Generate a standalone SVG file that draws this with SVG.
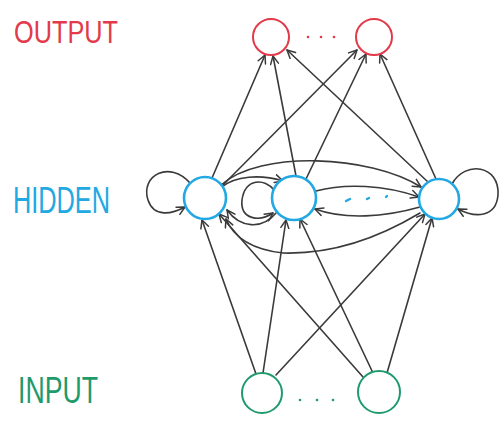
<svg xmlns="http://www.w3.org/2000/svg" width="503" height="427" viewBox="0 0 503 427">
<style>
.bg{fill:#ffffff}
.e{fill:none;stroke:#3a3a3a;stroke-width:1.6;stroke-linecap:round;marker-end:url(#arr)}
.out{fill:#fff;stroke:#e23a4a;stroke-width:2}
.hid{fill:#fff;stroke:#22a8e2;stroke-width:2.6}
.inp{fill:#fff;stroke:#1f9a6c;stroke-width:2}
.lbl{font-family:"Liberation Sans",Arial,sans-serif;font-weight:normal}
</style>
<defs>
<marker id="arr" viewBox="0 0 10 10" refX="9" refY="5" markerWidth="10" markerHeight="10" markerUnits="userSpaceOnUse" orient="auto">
<path d="M1,1 L9,5 L1,9" fill="none" stroke="#3a3a3a" stroke-width="1.5" stroke-linecap="round" stroke-linejoin="round"/>
</marker>
</defs>
<rect class="bg" x="0" y="0" width="503" height="427"/>

<g id="connectors">
<!-- input to hidden -->
<path class="e" d="M256,374 L202,220"/>
<path class="e" d="M263,373 L286,220"/>
<path class="e" d="M276,375 L425,214"/>
<path class="e" d="M363,377 L219,214"/>
<path class="e" d="M373,373 L300,219"/>
<path class="e" d="M387,373 L432,218"/>
<!-- hidden to output -->
<path class="e" d="M212,178 L265,55"/>
<path class="e" d="M222,186 L357,50"/>
<path class="e" d="M296,176 L273,56"/>
<path class="e" d="M306,179 L366,54"/>
<path class="e" d="M428,182 L287,50"/>
<path class="e" d="M436,179 L380,54"/>
<!-- self loops -->
<path class="e" d="M190,183 C170,160 140,175 148,200 C154,218 172,214 185,207"/>
<path class="e" d="M274,190 C265,178 245,178 242,200 C240,220 260,222 273,213"/>
<path class="e" d="M452,184 C465,160 500,165 498,195 C496,218 475,218 458,209"/>
<!-- hidden recurrent -->
<path class="e" d="M222,187 C235,176 260,174 283,181"/>
<path class="e" d="M221,185 C260,150 370,155 421,187"/>
<path class="e" d="M316,191 C345,183 385,185 419,197"/>
<path class="e" d="M420,207 C385,217 345,220 315,209"/>
<path class="e" d="M420,213 Q350,255 283,253 Q238,248 226,219"/>
<path class="e" d="M276,213 C262,230 240,228 227,210"/>
</g>

<g id="output1"><circle class="out" cx="271" cy="37" r="18"/></g>
<g id="output2"><circle class="out" cx="374" cy="37" r="18"/></g>
<g id="output-dots" fill="#e23a4a"><circle cx="308" cy="37" r="1.3"/><circle cx="321" cy="37" r="1.3"/><circle cx="334" cy="37" r="1.3"/></g>

<g id="hidden1"><circle class="hid" cx="205" cy="198" r="21"/></g>
<g id="hidden2"><circle class="hid" cx="294" cy="198" r="22"/></g>
<g id="hidden3"><circle class="hid" cx="439" cy="199" r="20"/></g>
<g id="hidden-dots" stroke="#22a8e2" stroke-width="2.4" stroke-linecap="round"><path d="M346,201 L350,199"/><path d="M367,199 L369,198"/><path d="M386,197 L387,196"/></g>

<g id="input1"><circle class="inp" cx="262" cy="393" r="20"/></g>
<g id="input2"><circle class="inp" cx="379" cy="392" r="21"/></g>
<g id="input-dots" fill="#1f9a6c"><circle cx="300" cy="400" r="1.3"/><circle cx="317" cy="400" r="1.3"/><circle cx="333" cy="400" r="1.3"/></g>

<g id="labels">
<text class="lbl" x="14" y="43" font-size="32" fill="#e23a4a" textLength="104" lengthAdjust="spacingAndGlyphs">OUTPUT</text>
<text class="lbl" x="13" y="213" font-size="36" fill="#22a8e2" textLength="97" lengthAdjust="spacingAndGlyphs">HIDDEN</text>
<text class="lbl" x="18" y="403" font-size="36" fill="#1f9a6c" textLength="80" lengthAdjust="spacingAndGlyphs">INPUT</text>
</g>
</svg>
